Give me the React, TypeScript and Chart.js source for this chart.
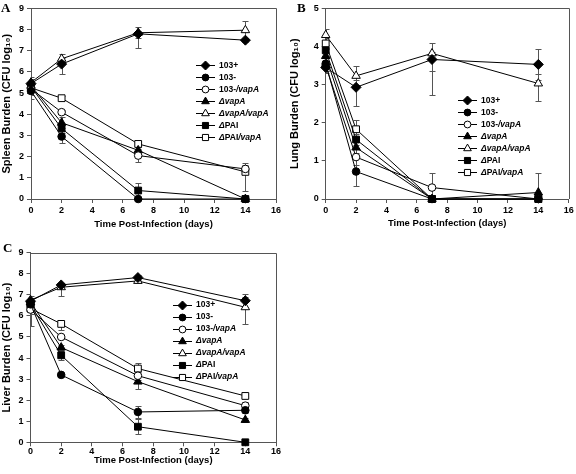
import React, { useEffect, useRef } from 'react';
import { Chart, registerables } from 'chart.js';

Chart.register(...registerables);

// ---------------- DATA ----------------
const days = [0, 2, 7, 14];
const xMin = 0;
const xMax = 16;
const xStep = 2;
const xTitle = 'Time Post-Infection (days)';

const seriesLabels = ['103+', '103-', '103-/vapA', 'ΔvapA', 'ΔvapA/vapA', 'ΔPAI', 'ΔPAI/vapA'];
// legend text split into [text, italic] segments
const legendParts: [string, boolean][][] = [
  [['103+', false]],
  [['103-', false]],
  [['103-', false], ['/vapA', true]],
  [['Δ', true], ['vapA', true]],
  [['Δ', true], ['vapA/vapA', true]],
  [['Δ', true], ['PAI', false]],
  [['Δ', true], ['PAI', false], ['/vapA', true]],
];

// Panel A – spleen
const spleenTitle = 'Spleen Burden (CFU log₁₀)';
const spleenMax = 9;
const spleen103p = [5.45, 6.37, 7.8, 7.5];
const spleen103m = [5.1, 2.95, 0, 0];
const spleen103mVapA = [5.2, 4.1, 2.05, 1.42];
const spleenDVapA = [5.35, 3.6, 2.3, 0];
const spleenDVapAVapA = [5.5, 6.62, 7.85, 7.97];
const spleenDPAI = [5.3, 3.33, 0.4, 0];
const spleenDPAIVapA = [5.25, 4.76, 2.6, 1.28];
// error bars [down, up]
const spleenErr103p = [[0.3, 0.3], [0.47, 0.3], [0.65, 0.15], [0.1, 0.1]];
const spleenErr103m = [[0.4, 0.4], [0.3, 0.3], [0, 0], [0, 0]];
const spleenErr103mVapA = [[0.3, 0.3], [0.1, 0.1], [0.3, 0.3], [0.2, 0.2]];
const spleenErrDVapA = [[0.2, 0.2], [0.25, 0.25], [0.15, 0.15], [0, 0]];
const spleenErrDVapAVapA = [[0.15, 0.15], [0.25, 0.25], [0.25, 0.25], [0.45, 0.45]];
const spleenErrDPAI = [[0.2, 0.2], [0.2, 0.2], [0.35, 0.35], [0, 0]];
const spleenErrDPAIVapA = [[0.2, 0.2], [0.1, 0.1], [0.15, 0.15], [0.9, 0.4]];

// Panel B – lung
const lungTitle = 'Lung Burden (CFU log₁₀)';
const lungMax = 5;
const lung103p = [3.45, 2.93, 3.66, 3.53];
const lung103m = [3.55, 0.72, 0, 0];
const lung103mVapA = [3.5, 1.1, 0.3, 0];
const lungDVapA = [3.75, 1.35, 0, 0.17];
const lungDVapAVapA = [4.3, 3.23, 3.82, 3.03];
const lungDPAI = [3.9, 1.56, 0, 0];
const lungDPAIVapA = [4.08, 1.83, 0, 0];
const lungErr103p = [[0.1, 0.1], [0.48, 0.2], [0.93, 0.2], [0.4, 0.4]];
const lungErr103m = [[0.2, 0.2], [0.38, 0.38], [0, 0], [0, 0]];
const lungErr103mVapA = [[0.2, 0.2], [0.2, 0.2], [0.38, 0.38], [0, 0]];
const lungErrDVapA = [[0.2, 0.2], [0.15, 0.15], [0, 0], [0.17, 0.5]];
const lungErrDVapAVapA = [[0.15, 0.15], [0.25, 0.25], [0.45, 0.28], [0.47, 0.24]];
const lungErrDPAI = [[0.15, 0.15], [0.15, 0.15], [0, 0], [0, 0]];
const lungErrDPAIVapA = [[0.15, 0.15], [0.25, 0.25], [0, 0], [0, 0]];

// Panel C – liver
const liverTitle = 'Liver Burden (CFU log₁₀)';
const liverMax = 9;
const liver103p = [6.7, 7.47, 7.82, 6.72];
const liver103m = [6.55, 3.2, 1.44, 1.52];
const liver103mVapA = [6.3, 5.0, 3.16, 1.74];
const liverDVapA = [6.65, 4.5, 2.88, 1.06];
const liverDVapAVapA = [6.75, 7.36, 7.66, 6.41];
const liverDPAI = [6.55, 4.13, 0.74, 0];
const liverDPAIVapA = [6.35, 5.62, 3.5, 2.2];
const liverErr103p = [[0.15, 0.15], [0.1, 0.1], [0.1, 0.1], [0.3, 0.3]];
const liverErr103m = [[0.2, 0.2], [0.1, 0.1], [0.28, 0.28], [0.15, 0.15]];
const liverErr103mVapA = [[0.2, 0.2], [0.1, 0.1], [0.2, 0.2], [0.15, 0.15]];
const liverErrDVapA = [[0.2, 0.2], [0.1, 0.1], [0.35, 0.35], [0.1, 0.1]];
const liverErrDVapAVapA = [[0.2, 0.2], [0.4, 0.2], [0.1, 0.1], [0.78, 0.5]];
const liverErrDPAI = [[0.15, 0.15], [0.2, 0.2], [0.35, 0.35], [0, 0]];
const liverErrDPAIVapA = [[0.85, 0.3], [0.3, 0.1], [0.25, 0.25], [0.1, 0.1]];

// ---------------- STYLE ----------------
const FAMILY = "'Liberation Sans', Arial, Helvetica, sans-serif";
const SERIF = "'Liberation Serif', 'Times New Roman', serif";
const AXIS = '#555';
const markers = [
  { style: 'rectRot', fill: true, r: 5 },
  { style: 'circle', fill: true, r: 3.8 },
  { style: 'circle', fill: false, r: 3.8 },
  { style: 'triangle', fill: true, r: 4.9 },
  { style: 'triangle', fill: false, r: 4.9 },
  { style: 'rect', fill: true, r: 4.8 },
  { style: 'rect', fill: false, r: 4.8 },
];

function drawMarker(ctx: CanvasRenderingContext2D, style: string, x: number, y: number, r: number, fill: boolean) {
  ctx.beginPath();
  if (style === 'circle') {
    ctx.arc(x, y, r, 0, Math.PI * 2);
  } else if (style === 'rect') {
    const s = r * Math.SQRT1_2;
    ctx.rect(x - s, y - s, 2 * s, 2 * s);
  } else if (style === 'rectRot') {
    ctx.moveTo(x, y - r);
    ctx.lineTo(x + r, y);
    ctx.lineTo(x, y + r);
    ctx.lineTo(x - r, y);
    ctx.closePath();
  } else if (style === 'triangle') {
    ctx.moveTo(x, y - r);
    ctx.lineTo(x + r * Math.sin((2 * Math.PI) / 3), y - r * Math.cos((2 * Math.PI) / 3));
    ctx.lineTo(x + r * Math.sin((4 * Math.PI) / 3), y - r * Math.cos((4 * Math.PI) / 3));
    ctx.closePath();
  }
  ctx.fillStyle = fill ? '#000' : '#fff';
  ctx.fill();
  ctx.strokeStyle = '#000';
  ctx.lineWidth = 1;
  ctx.stroke();
}

const errorBarsPlugin = {
  id: 'errorBars',
  beforeDatasetsDraw(chart: any) {
    const ctx = chart.ctx;
    const { left, right, top, bottom } = chart.chartArea;
    const ys = chart.scales.y;
    ctx.save();
    ctx.beginPath();
    ctx.rect(left, top - 6, right - left, bottom - top + 6);
    ctx.clip();
    ctx.strokeStyle = '#555';
    ctx.lineWidth = 1;
    chart.data.datasets.forEach((ds: any, i: number) => {
      const meta = chart.getDatasetMeta(i);
      ds.errors.forEach((e: number[], j: number) => {
        const pt = meta.data[j];
        const v = ds.data[j].y;
        const x = Math.round(pt.x) + 0.5;
        const seg = (val: number) => {
          const y1 = Math.round(ys.getPixelForValue(val)) + 0.5;
          ctx.beginPath();
          ctx.moveTo(x, pt.y);
          ctx.lineTo(x, y1);
          ctx.moveTo(x - 3, y1);
          ctx.lineTo(x + 3, y1);
          ctx.stroke();
        };
        if (e[0] > 0) seg(v - e[0]);
        if (e[1] > 0) seg(v + e[1]);
      });
    });
    ctx.restore();
  },
};

const framePlugin = {
  id: 'frame',
  beforeDatasetsDraw(chart: any) {
    const ctx = chart.ctx;
    const { left, right, top, bottom } = chart.chartArea;
    ctx.save();
    ctx.strokeStyle = AXIS;
    ctx.lineWidth = 1;
    ctx.beginPath();
    ctx.moveTo(left, Math.round(top) + 0.5);
    ctx.lineTo(Math.round(right) + 0.5, Math.round(top) + 0.5);
    ctx.lineTo(Math.round(right) + 0.5, bottom);
    ctx.stroke();
    ctx.restore();
  },
};

const annotPlugin = {
  id: 'annot',
  afterDraw(chart: any) {
    const o = chart.options.plugins.annot;
    const ctx = chart.ctx;
    ctx.save();
    // panel letter
    ctx.fillStyle = '#000';
    ctx.font = `bold 13px ${SERIF}`;
    ctx.textBaseline = 'alphabetic';
    ctx.textAlign = 'left';
    ctx.fillText(o.letter, o.letterX, o.letterY);
    // legend
    ctx.textBaseline = 'middle';
    legendParts.forEach((parts, k) => {
      const y = o.legY + k * o.rowH;
      ctx.strokeStyle = '#000';
      ctx.lineWidth = 1;
      ctx.beginPath();
      ctx.moveTo(o.legX, Math.round(y) + 0.5);
      ctx.lineTo(o.legX + 19, Math.round(y) + 0.5);
      ctx.stroke();
      const m = markers[k];
      drawMarker(ctx, m.style, o.legX + 9.5, Math.round(y) + 0.5, m.r * 0.9, m.fill);
      let tx = o.legX + 23;
      parts.forEach(([txt, it]) => {
        ctx.font = `${it ? 'italic ' : ''}bold 8.5px ${FAMILY}`;
        ctx.fillStyle = '#000';
        ctx.fillText(txt, tx, y + 0.5);
        tx += ctx.measureText(txt).width;
      });
    });
    ctx.restore();
  },
};

type PanelCfg = {
  letter: string;
  yTitle: string;
  yMax: number;
  values: number[][];
  errors: number[][][];
  box: { left: number; top: number; width: number; height: number };
  area: { left: number; right: number; top: number; bottom: number };
  titlePadBottom: number;
  xTickPad: number;
  letterX: number;
  letterY: number;
  legX: number;
  legY: number;
  rowH: number;
};

const panels: PanelCfg[] = [
  {
    letter: 'A',
    yTitle: spleenTitle,
    yMax: spleenMax,
    values: [spleen103p, spleen103m, spleen103mVapA, spleenDVapA, spleenDVapAVapA, spleenDPAI, spleenDPAIVapA],
    errors: [spleenErr103p, spleenErr103m, spleenErr103mVapA, spleenErrDVapA, spleenErrDVapAVapA, spleenErrDPAI, spleenErrDPAIVapA],
    box: { left: 0, top: 0, width: 288, height: 234 },
    area: { left: 31, right: 276, top: 7.3, bottom: 199 },
    titlePadBottom: 4.3,
    xTickPad: 2,
    letterX: 1,
    letterY: 12,
    legX: 196,
    legY: 65,
    rowH: 12,
  },
  {
    letter: 'B',
    yTitle: lungTitle,
    yMax: lungMax,
    values: [lung103p, lung103m, lung103mVapA, lungDVapA, lungDVapAVapA, lungDPAI, lungDPAIVapA],
    errors: [lungErr103p, lungErr103m, lungErr103mVapA, lungErrDVapA, lungErrDVapAVapA, lungErrDPAI, lungErrDPAIVapA],
    box: { left: 288, top: 0, width: 288, height: 234 },
    area: { left: 37.7, right: 280.7, top: 7.3, bottom: 199 },
    titlePadBottom: 5,
    xTickPad: 2,
    letterX: 9,
    letterY: 12,
    legX: 170,
    legY: 100,
    rowH: 12,
  },
  {
    letter: 'C',
    yTitle: liverTitle,
    yMax: liverMax,
    values: [liver103p, liver103m, liver103mVapA, liverDVapA, liverDVapAVapA, liverDPAI, liverDPAIVapA],
    errors: [liverErr103p, liverErr103m, liverErr103mVapA, liverErrDVapA, liverErrDVapAVapA, liverErrDPAI, liverErrDPAIVapA],
    box: { left: 0, top: 236, width: 288, height: 238 },
    area: { left: 30.5, right: 276, top: 16.7, bottom: 206.3 },
    titlePadBottom: 7.8,
    xTickPad: 0,
    letterX: 3,
    letterY: 15.5,
    legX: 173,
    legY: 68.5,
    rowH: 12,
  },
];

function buildConfig(cfg: PanelCfg): any {
  const W = cfg.box.width;
  const H = cfg.box.height;
  const tickFont = { family: FAMILY, size: 9, weight: 'bold' as const };
  const titleFont = { family: FAMILY, size: 9.5, weight: 'bold' as const };
  return {
    type: 'line',
    data: {
      datasets: seriesLabels.map((label, i) => ({
        label,
        data: days.map((d, j) => ({ x: d, y: cfg.values[i][j] })),
        errors: cfg.errors[i],
        borderColor: '#000',
        borderWidth: 1,
        pointStyle: markers[i].style,
        pointRadius: markers[i].r,
        pointBackgroundColor: markers[i].fill ? '#000' : '#fff',
        pointBorderColor: '#000',
        pointBorderWidth: 1,
        tension: 0,
        fill: false,
        clip: false,
      })),
    },
    options: {
      responsive: false,
      maintainAspectRatio: false,
      animation: false,
      devicePixelRatio: 1,
      events: [],
      layout: { padding: { left: 0, right: W - cfg.area.right, top: cfg.area.top, bottom: 0 } },
      plugins: {
        legend: { display: false },
        tooltip: { enabled: false },
        annot: {
          letter: cfg.letter,
          letterX: cfg.letterX,
          letterY: cfg.letterY,
          legX: cfg.legX,
          legY: cfg.legY,
          rowH: cfg.rowH,
        },
      },
      scales: {
        x: {
          type: 'linear',
          min: xMin,
          max: xMax,
          ticks: { stepSize: xStep, font: tickFont, color: '#000', padding: cfg.xTickPad, maxRotation: 0, autoSkip: false },
          grid: { display: true, drawOnChartArea: false, drawTicks: true, tickLength: 4, color: AXIS, lineWidth: 1 },
          border: { display: true, color: AXIS, width: 1 },
          title: { display: true, text: xTitle, font: titleFont, color: '#000', padding: { top: 0, bottom: cfg.titlePadBottom } },
          afterFit: (s: any) => {
            s.height = H - cfg.area.bottom;
          },
        },
        y: {
          type: 'linear',
          min: 0,
          max: cfg.yMax,
          ticks: { stepSize: 1, font: tickFont, color: '#000', padding: 3 },
          grid: { display: true, drawOnChartArea: false, drawTicks: true, tickLength: 4, color: AXIS, lineWidth: 1 },
          border: { display: true, color: AXIS, width: 1 },
          title: { display: true, text: cfg.yTitle, font: { family: FAMILY, size: 11, weight: 'bold' }, color: '#000', padding: 0 },
          afterFit: (s: any) => {
            s.width = cfg.area.left;
          },
        },
      },
    },
    plugins: [framePlugin, errorBarsPlugin, annotPlugin],
  };
}

function Panel({ cfg }: { cfg: PanelCfg }) {
  const ref = useRef<HTMLCanvasElement>(null);
  useEffect(() => {
    const chart = new Chart(ref.current as HTMLCanvasElement, buildConfig(cfg));
    return () => chart.destroy();
  }, [cfg]);
  return (
    <canvas
      ref={ref}
      width={cfg.box.width}
      height={cfg.box.height}
      style={{ position: 'absolute', left: cfg.box.left, top: cfg.box.top, width: cfg.box.width, height: cfg.box.height }}
    />
  );
}

export default function App() {
  return (
    <div style={{ position: 'fixed', left: 0, top: 0, width: 576, height: 474, background: '#fff', overflow: 'hidden' }}>
      {panels.map((p) => (
        <Panel key={p.letter} cfg={p} />
      ))}
    </div>
  );
}
